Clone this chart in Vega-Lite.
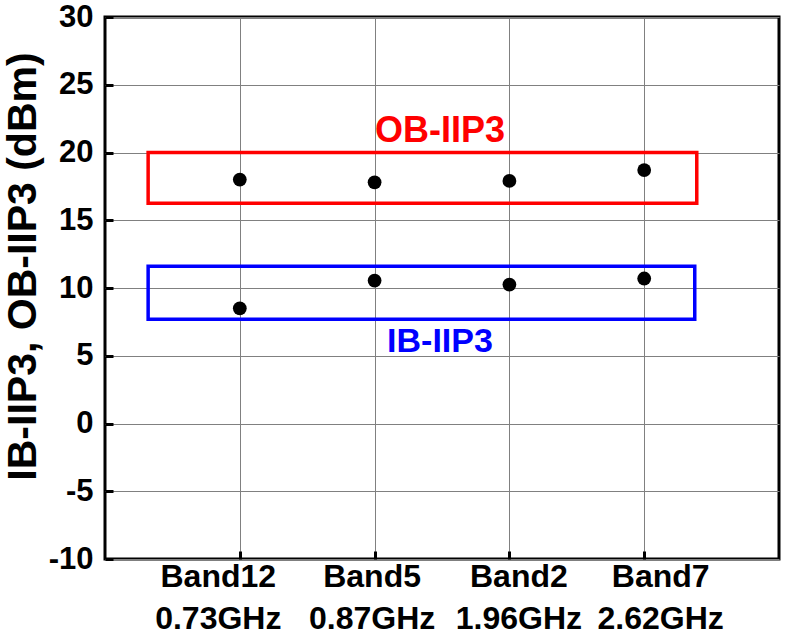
{
  "$schema": "https://vega.github.io/schema/vega-lite/v6.json",
  "autosize": "none",
  "width": 674,
  "height": 542,
  "padding": {"left": 105, "top": 17, "right": 6, "bottom": 84},
  "background": "white",
  "config": {
    "view": {"stroke": "black", "strokeWidth": 3},
    "font": "Liberation Sans",
    "axis": {
      "labelFont": "Liberation Sans",
      "titleFont": "Liberation Sans",
      "labelFontWeight": "bold",
      "titleFontWeight": "bold",
      "labelColor": "black",
      "titleColor": "black",
      "gridColor": "#808080",
      "gridWidth": 1,
      "gridOpacity": 1,
      "domain": false,
      "tickColor": "black",
      "tickWidth": 3
    }
  },
  "datasets": {
    "points": [
      {"pos": 1, "band": "Band12", "series": "OB-IIP3", "value": 18.0},
      {"pos": 2, "band": "Band5", "series": "OB-IIP3", "value": 17.8},
      {"pos": 3, "band": "Band2", "series": "OB-IIP3", "value": 17.9},
      {"pos": 4, "band": "Band7", "series": "OB-IIP3", "value": 18.7},
      {"pos": 1, "band": "Band12", "series": "IB-IIP3", "value": 8.5},
      {"pos": 2, "band": "Band5", "series": "IB-IIP3", "value": 10.55},
      {"pos": 3, "band": "Band2", "series": "IB-IIP3", "value": 10.25},
      {"pos": 4, "band": "Band7", "series": "IB-IIP3", "value": 10.7}
    ],
    "boxes": [
      {"name": "OB-IIP3", "x1": 0.32, "x2": 4.39, "y1": 16.25, "y2": 20.0, "color": "#ff0000"},
      {"name": "IB-IIP3", "x1": 0.32, "x2": 4.375, "y1": 7.7, "y2": 11.6, "color": "#0000ff"}
    ],
    "labels": [
      {"name": "OB-IIP3", "x": 2.485, "y": 20.74, "color": "#ff0000", "size": 36},
      {"name": "IB-IIP3", "x": 2.485, "y": 5.31, "color": "#0000ff", "size": 34}
    ]
  },
  "layer": [
    {
      "data": {"name": "boxes"},
      "mark": {"type": "rect", "fill": null, "strokeWidth": 3.5, "fillOpacity": 0},
      "encoding": {
        "x": {
          "field": "x1", "type": "quantitative",
          "scale": {"domain": [0, 5], "nice": false, "zero": false},
          "axis": {
            "values": [1, 2, 3, 4],
            "title": null,
            "tickSize": -8,
            "labelPadding": 10,
            "labelFontSize": 32,
            "labelLineHeight": 42,
            "labelOffset": {
              "condition": [
                {"test": "datum.value == 1", "value": -22},
                {"test": "datum.value == 2", "value": -3},
                {"test": "datum.value == 3", "value": 9}
              ],
              "value": 16
            },
            "labelExpr": "datum.value == 1 ? ['Band12', '0.73GHz'] : datum.value == 2 ? ['Band5', '0.87GHz'] : datum.value == 3 ? ['Band2', '1.96GHz'] : ['Band7', '2.62GHz']"
          }
        },
        "x2": {"field": "x2"},
        "y": {
          "field": "y1", "type": "quantitative",
          "scale": {"domain": [-10, 30], "nice": false, "zero": false},
          "axis": {
            "values": [-10, -5, 0, 5, 10, 15, 20, 25, 30],
            "labelExpr": "'' + datum.value",
            "title": "IB-IIP3, OB-IIP3 (dBm)",
            "titleFontSize": 41,
            "titleX": -70,
            "titleY": 249,
            "titleAngle": -90,
            "titleAlign": "center",
            "titleBaseline": "alphabetic",
            "tickSize": -8,
            "labelPadding": 20,
            "labelFontSize": 31
          }
        },
        "y2": {"field": "y2"},
        "stroke": {"field": "color", "type": "nominal", "scale": null}
      }
    },
    {
      "data": {"name": "points"},
      "mark": {"type": "point", "shape": "circle", "filled": true, "color": "black", "size": 190, "opacity": 1},
      "encoding": {
        "x": {"field": "pos", "type": "quantitative"},
        "y": {"field": "value", "type": "quantitative"}
      }
    },
    {
      "data": {"name": "labels"},
      "mark": {"type": "text", "fontWeight": "bold", "font": "Liberation Sans", "baseline": "alphabetic", "align": "center"},
      "encoding": {
        "x": {"field": "x", "type": "quantitative"},
        "y": {"field": "y", "type": "quantitative"},
        "text": {"field": "name"},
        "color": {"field": "color", "type": "nominal", "scale": null},
        "size": {"field": "size", "type": "quantitative", "scale": null}
      }
    }
  ]
}
